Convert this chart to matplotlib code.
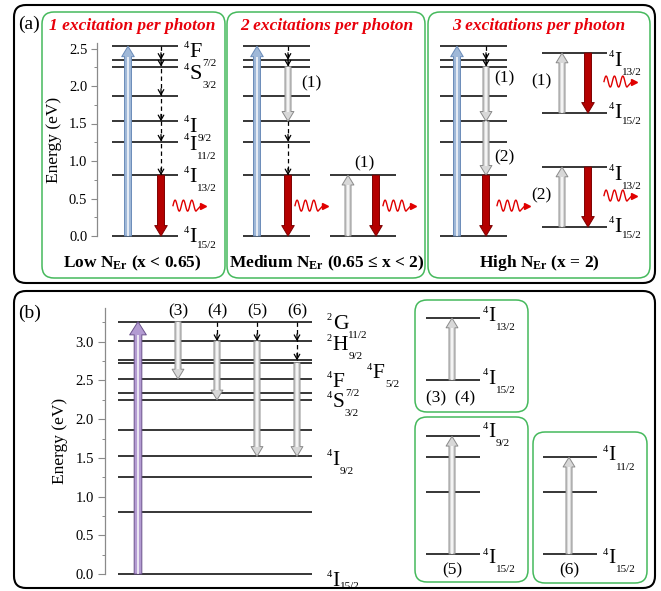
import numpy as np
import matplotlib
matplotlib.use("Agg")
import matplotlib.pyplot as plt
from matplotlib.patches import FancyBboxPatch, FancyArrowPatch
from matplotlib.ticker import MultipleLocator

W, H = 661, 591

plt.rcParams["font.family"] = ["Liberation Serif", "DejaVu Serif"]
plt.rcParams["mathtext.fontset"] = "custom"
plt.rcParams["mathtext.rm"] = "Liberation Serif"
plt.rcParams["mathtext.it"] = "Liberation Serif:italic"
plt.rcParams["mathtext.bf"] = "Liberation Serif:bold"

# Er3+ energy levels (eV)
level_names = ["I15", "I13", "I11", "I9", "F9", "S3", "H11", "F7", "F5", "F3", "H9", "G11"]
level_ev_a = [0.0, 0.81, 1.26, 1.53, 1.87, 2.26, 2.35, 2.53]
level_ev_b = [0.0, 0.80, 1.25, 1.52, 1.86, 2.25, 2.34, 2.52, 2.73, 2.76, 3.01, 3.26]
EA = dict(zip(level_names, level_ev_a))
EB = dict(zip(level_names, level_ev_b))

titles_a = ["1 excitation per photon", "2 excitations per photon", "3 excitations per photon"]
bottoms_a = ["Low N$_{\\mathbf{Er}}$ (x < 0.65)",
             "Medium N$_{\\mathbf{Er}}$ (0.65 ≤ x < 2)",
             "High N$_{\\mathbf{Er}}$ (x = 2)"]
ticks_a = [0.0, 0.5, 1.0, 1.5, 2.0, 2.5]
ticks_b = [0.0, 0.5, 1.0, 1.5, 2.0, 2.5, 3.0]

C = {
    "green": "#45b95c",
    "red": "#b40000",
    "red_edge": "#7d0000",
    "wave": "#e00000",
    "title": "#e8000a",
    "blue": "#9fb8d8",
    "blue_edge": "#6a8bb8",
    "gray": "#d8d8d8",
    "gray_edge": "#8a8a8a",
    "purple": "#b39bd2",
    "purple_edge": "#6b528c",
    "spine": "#8a8a8a",
}

# face, edge, tail width, head width, head length (points)
STY = {
    "blue": (C["blue"], C["blue_edge"], 5.0, 9.0, 7.5),
    "red": (C["red"], C["red_edge"], 5.0, 9.0, 7.5),
    "gray": (C["gray"], C["gray_edge"], 4.3, 8.5, 7.0),
    "purple": (C["purple"], C["purple_edge"], 5.5, 12.0, 9.5),
}
LETTER_W = {"I": 0.333, "F": 0.556, "S": 0.556, "G": 0.722, "H": 0.722}

fig = plt.figure(figsize=(W / 100, H / 100), dpi=100)
bg = fig.add_axes([0, 0, 1, 1])
bg.set_xlim(0, W)
bg.set_ylim(H, 0)
bg.axis("off")


def rbox(x0, y0, x1, y1, color, lw, r=10):
    bg.add_patch(FancyBboxPatch((x0, y0), x1 - x0, y1 - y0,
                                boxstyle=f"round,pad=0,rounding_size={r}",
                                fc="none", ec=color, lw=lw))


def energy_axes(x0, x1, y_zero, scale, emax, emin=0.0):
    top = y_zero - emax * scale
    bottom = y_zero - emin * scale
    ax = fig.add_axes([x0 / W, 1 - bottom / H, (x1 - x0) / W, (bottom - top) / H])
    ax.set_xlim(x0, x1)
    ax.set_ylim(emin, emax)
    ax.patch.set_alpha(0)
    ax.axis("off")
    ax.scale = scale
    return ax


def levels(ax, energies, x0, x1):
    ax.hlines(energies, x0, x1, color="k", lw=1.1, clip_on=False, zorder=2)


def fat(ax, x, e0, e1, kind):
    face, edge, tail, hw, hl = STY[kind]
    ax.add_patch(FancyArrowPatch(
        (x, e0), (x, e1),
        arrowstyle=f"simple,head_length={hl},head_width={hw},tail_width={tail}",
        mutation_scale=1, fc=face, ec=edge, lw=0.7,
        shrinkA=0, shrinkB=0, clip_on=False, zorder=3))
    if kind in ("gray", "blue", "purple"):
        # light streak down the shaft
        sgn = 1 if e1 > e0 else -1
        end = e1 - sgn * (hl * 1.389) / ax.scale
        ax.plot([x, x], [e0, end], color="white", lw=1.4, alpha=0.75,
                solid_capstyle="butt", clip_on=False, zorder=3.5)


def dashed(ax, x, e_top, e_bot, heads):
    ax.plot([x, x], [e_top, e_bot], color="k", lw=0.9, ls=(0, (3.5, 2.5)),
            clip_on=False, zorder=3)
    d = 7 / ax.scale
    for e in heads:
        ax.annotate("", xy=(x, e), xytext=(x, e + d),
                    arrowprops=dict(arrowstyle="->,head_length=0.35,head_width=0.2",
                                    lw=0.9, color="k", shrinkA=0, shrinkB=0),
                    annotation_clip=False, zorder=3)


def photon(ax, x0, e_mid):
    t = np.linspace(0, 1, 80)
    xs = x0 + 23 * t
    ys = e_mid + (5.5 / ax.scale) * np.sin(2 * np.pi * 2.75 * t)
    xs = np.append(xs, xs[-1] + 5)
    ys = np.append(ys, e_mid)
    ax.plot(xs, ys, color=C["wave"], lw=1.0, clip_on=False, zorder=3)
    ax.plot([xs[-1] + 2], [e_mid], marker=">", ms=4.5, color=C["wave"],
            mec=C["wave"], clip_on=False, zorder=3)


def term(ax, x, e, mult, letter, j, de=0.0, size=16, small=8, sub_drop=6.5):
    # spectroscopic term: small multiplicity, big letter, small J below right
    kw = dict(xycoords="data", textcoords="offset points", va="baseline",
              ha="left", annotation_clip=False)
    xy = (x, e + de)
    cap = 0.33 * size
    sup = 7.5
    ax.annotate(str(mult), xy, xytext=(0, cap + 1.0 - 0.66 * sup), fontsize=sup, **kw)
    lx = 0.5 * sup + 0.3
    ax.annotate(letter, xy, xytext=(lx, -cap), fontsize=size, **kw)
    jx = lx + LETTER_W[letter] * size + 0.2
    ax.annotate(j, xy, xytext=(jx, -cap - sub_drop), fontsize=small, **kw)


def label(ax, x, e, s, size=12.5):
    ax.text(x, e, s, fontsize=size, ha="center", va="center", clip_on=False)


def energy_spine(ax, ticks, emax_spine):
    ax.axis("on")
    for side in ("top", "right", "bottom"):
        ax.spines[side].set_visible(False)
    ax.spines["left"].set_color(C["spine"])
    ax.spines["left"].set_linewidth(0.9)
    ax.spines["left"].set_bounds(0, emax_spine)
    ax.set_xticks([])
    ax.set_yticks(ticks)
    ax.set_yticklabels([f"{t:.1f}" for t in ticks])
    ax.yaxis.set_minor_locator(MultipleLocator(0.25))
    ax.tick_params(axis="y", which="major", length=4, width=0.8, color=C["spine"],
                   labelsize=10.5, pad=3)
    ax.tick_params(axis="y", which="minor", length=2.5, width=0.7, color=C["spine"])
    ax.set_ylabel("Energy (eV)", fontsize=12.5, labelpad=5)


# ---------------- frames ----------------
rbox(14, 5, 655, 283, "k", 1.5, r=12)
rbox(14, 291, 655, 588, "k", 1.5, r=12)
for x0, x1 in [(42, 225), (227, 425), (428, 650)]:
    rbox(x0, 12, x1, 278, C["green"], 1.1, r=12)
rbox(415, 300, 528, 412, C["green"], 1.1, r=12)
rbox(415, 417, 528, 582, C["green"], 1.1, r=12)
rbox(533, 432, 647, 583, C["green"], 1.1, r=12)

bg.text(18, 24, "(a)", fontsize=14, va="center", ha="left")
bg.text(18, 313, "(b)", fontsize=14, va="center", ha="left")

for xc, t, b in zip([132, 327, 539], titles_a, bottoms_a):
    bg.text(xc, 26, t, fontsize=12.5, fontweight="bold", style="italic",
            color=C["title"], ha="center", va="center")
    bg.text(xc, 263, b, fontsize=12.5, fontweight="bold", ha="center", va="center")

# ---------------- panel (a), column 1 ----------------
ymax_a = 2.57
a1 = energy_axes(97, 222, 236, 75, ymax_a)
energy_spine(a1, ticks_a, ymax_a)
levels(a1, level_ev_a, 112, 178)
fat(a1, 128, EA["I15"], EA["F7"], "blue")
dashed(a1, 161, EA["F7"], EA["I13"],
       [EA["H11"], EA["S3"], EA["F9"], EA["I9"], EA["I11"], EA["I13"]])
fat(a1, 161, EA["I13"], EA["I15"], "red")
photon(a1, 173, EA["I13"] / 2)
tx = 184
term(a1, tx, EA["F7"], 4, "F", "7/2", de=-0.05)
term(a1, tx, EA["S3"], 4, "S", "3/2", de=-0.07)
term(a1, tx, EA["I9"], 4, "I", "9/2", de=-0.04)
term(a1, tx, EA["I11"], 4, "I", "11/2", de=-0.01)
term(a1, tx, EA["I13"], 4, "I", "13/2", de=0.01)
term(a1, tx, EA["I15"], 4, "I", "15/2", de=0.02, sub_drop=4.5)

# ---------------- panel (a), column 2 ----------------
a2 = energy_axes(230, 422, 236, 75, ymax_a)
levels(a2, level_ev_a, 243, 310)
fat(a2, 257, EA["I15"], EA["F7"], "blue")
dashed(a2, 288, EA["F7"], EA["S3"], [EA["H11"], EA["S3"]])
fat(a2, 288, EA["S3"], EA["I9"], "gray")
dashed(a2, 288, EA["I9"], EA["I13"], [EA["I11"], EA["I13"]])
fat(a2, 288, EA["I13"], EA["I15"], "red")
photon(a2, 295, EA["I13"] / 2)
label(a2, 311, 2.04, "(1)")
levels(a2, [EA["I15"], EA["I13"]], 330, 396)
fat(a2, 348, EA["I15"], EA["I13"], "gray")
fat(a2, 376, EA["I13"], EA["I15"], "red")
photon(a2, 383, EA["I13"] / 2)
label(a2, 364, 0.97, "(1)")

# ---------------- panel (a), column 3 ----------------
a3 = energy_axes(432, 532, 236, 75, ymax_a)
levels(a3, level_ev_a, 440, 507)
fat(a3, 457, EA["I15"], EA["F7"], "blue")
dashed(a3, 486, EA["F7"], EA["S3"], [EA["H11"], EA["S3"]])
fat(a3, 486, EA["S3"], EA["I9"], "gray")
fat(a3, 486, EA["I9"], EA["I13"], "gray")
fat(a3, 486, EA["I13"], EA["I15"], "red")
photon(a3, 497, EA["I13"] / 2)
label(a3, 504, 2.10, "(1)")
label(a3, 504, 1.05, "(2)")

for y_zero, tag in [(113, "(1)"), (227, "(2)")]:
    m = energy_axes(530, 650, y_zero, 74, EA["I13"])
    levels(m, [EA["I15"], EA["I13"]], 542, 607)
    fat(m, 562, EA["I15"], EA["I13"], "gray")
    fat(m, 588, EA["I13"], EA["I15"], "red")
    photon(m, 604, EA["I13"] / 2 + 0.02)
    label(m, 541, EA["I13"] / 2 + 0.02, tag)
    term(m, 609, EA["I13"], 4, "I", "13/2", de=-0.08)
    term(m, 609, EA["I15"], 4, "I", "15/2", de=0.03, sub_drop=4.5)

# ---------------- panel (b) ----------------
ymax_b = 3.44
b = energy_axes(105, 412, 574, 77.4, ymax_b)
energy_spine(b, ticks_b, ymax_b)
b.tick_params(axis="y", which="major", length=5)
levels(b, level_ev_b, 118, 312)
fat(b, 138, EB["I15"], EB["G11"], "purple")
fat(b, 178, EB["G11"], EB["F7"], "gray")
dashed(b, 217, EB["G11"], EB["H9"], [EB["H9"]])
fat(b, 217, EB["H9"], EB["S3"], "gray")
dashed(b, 257, EB["G11"], EB["H9"], [EB["H9"]])
fat(b, 257, EB["H9"], EB["I9"], "gray")
dashed(b, 297, EB["G11"], EB["F3"], [EB["H9"], EB["F3"]])
fat(b, 297, EB["F5"], EB["I9"], "gray")
for x, tag in zip([178, 217, 257, 297], ["(3)", "(4)", "(5)", "(6)"]):
    label(b, x, 3.39, tag, size=12.5)

tb = 327
fs_b = 15.5
term(b, tb, EB["G11"], 2, "G", "11/2", size=fs_b)
term(b, tb, EB["H9"] - 0.02, 2, "H", "9/2", size=fs_b)
term(b, 367, EB["F5"] - 0.11, 4, "F", "5/2", size=fs_b)
term(b, tb, EB["F7"] - 0.01, 4, "F", "7/2", size=fs_b)
term(b, tb, EB["S3"], 4, "S", "3/2", size=fs_b)
term(b, tb, EB["I9"] - 0.02, 4, "I", "9/2", size=fs_b)
term(b, tb, EB["I15"] - 0.065, 4, "I", "15/2", size=fs_b, sub_drop=2.0)

# mini diagrams in (b)
m1 = energy_axes(418, 526, 380, 77.4, EB["I13"])
levels(m1, [EB["I15"], EB["I13"]], 426, 480)
fat(m1, 452, EB["I15"], EB["I13"], "gray")
term(m1, 483, EB["I13"], 4, "I", "13/2", de=0.05, size=fs_b)
term(m1, 483, EB["I15"], 4, "I", "15/2", de=0.04, size=fs_b)
label(m1, 451, -0.24, "(3)  (4)", size=12.5)

m2 = energy_axes(418, 526, 554, 77.4, EB["I9"])
levels(m2, [EB["I15"], EB["I13"], EB["I11"], EB["I9"]], 426, 480)
fat(m2, 452, EB["I15"], EB["I9"], "gray")
term(m2, 483, EB["I9"], 4, "I", "9/2", de=0.08, size=fs_b)
term(m2, 483, EB["I15"], 4, "I", "15/2", de=-0.03, size=fs_b)
label(m2, 452, -0.21, "(5)", size=12.5)

m3 = energy_axes(536, 646, 554, 77.4, EB["I11"])
levels(m3, [EB["I15"], EB["I13"], EB["I11"]], 543, 597)
fat(m3, 569, EB["I15"], EB["I11"], "gray")
term(m3, 603, EB["I11"], 4, "I", "11/2", de=0.05, size=fs_b)
term(m3, 603, EB["I15"], 4, "I", "15/2", de=-0.03, size=fs_b)
label(m3, 569, -0.21, "(6)", size=12.5)

fig.savefig("out.png", dpi=100)
